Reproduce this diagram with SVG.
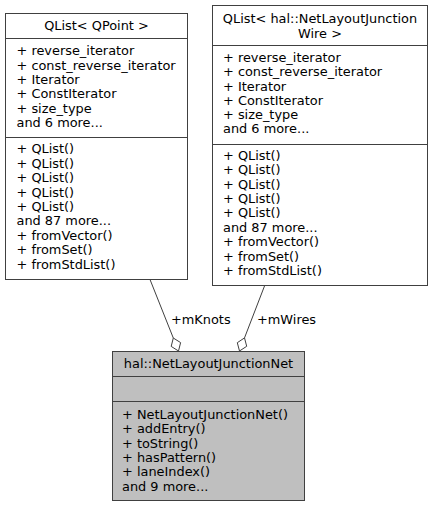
<svg xmlns="http://www.w3.org/2000/svg" width="435" height="507" viewBox="0 0 435 507">
<style>
text{font-family:"DejaVu Sans","Liberation Sans",sans-serif;font-size:12.9px;fill:#000}
.c{text-anchor:middle}
.box{fill:#fff;stroke:#404040;stroke-width:1}
.main{fill:#bfbfbf;stroke:#404040;stroke-width:1}
.sep{stroke:#404040;stroke-width:1;fill:none}
.edge{stroke:#404040;stroke-width:1;fill:none}
.dia{fill:#fff;stroke:#404040;stroke-width:1}
</style>
<rect width="435" height="507" fill="#fff"/>
<g id="connectors">
<path class="edge" d="M150,279.5 L173.3,338"/>
<polygon class="dia" points="178.5,351 180.6,342.6 173.3,338 171.2,346.4"/>
<text x="171" y="323.5">+mKnots</text>
<path class="edge" d="M264.5,286 L244.5,337.9"/>
<polygon class="dia" points="239.5,351 246.7,346.3 244.5,337.9 237.3,342.7"/>
<text x="257" y="323.5">+mWires</text>
</g>
<g id="node_qlist_qpoint">
<rect class="box" x="5.5" y="13.5" width="182" height="266"/>
<text class="c" x="96.5" y="30.3">QList&lt; QPoint &gt;</text>
<path class="sep" d="M5.5,38.5 H187.5"/>
<text x="16.5" y="55.3">+ reverse_iterator</text>
<text x="16.5" y="69.6">+ const_reverse_iterator</text>
<text x="16.5" y="83.9">+ Iterator</text>
<text x="16.5" y="98.2">+ ConstIterator</text>
<text x="16.5" y="112.5">+ size_type</text>
<text x="16.5" y="126.8">and 6 more...</text>
<path class="sep" d="M5.5,137.5 H187.5"/>
<text x="16.5" y="153.4">+ QList()</text>
<text x="16.5" y="167.8">+ QList()</text>
<text x="16.5" y="182.2">+ QList()</text>
<text x="16.5" y="196.6">+ QList()</text>
<text x="16.5" y="211">+ QList()</text>
<text x="16.5" y="225.4">and 87 more...</text>
<text x="16.5" y="239.8">+ fromVector()</text>
<text x="16.5" y="254.2">+ fromSet()</text>
<text x="16.5" y="268.6">+ fromStdList()</text>
</g>
<g id="node_qlist_wire">
<rect class="box" x="212.5" y="5.5" width="215" height="280"/>
<text class="c" x="320" y="22.9">QList&lt; hal::NetLayoutJunction</text>
<text class="c" x="320" y="37.5">Wire &gt;</text>
<path class="sep" d="M212.5,45.5 H427.5"/>
<text x="223" y="61.9">+ reverse_iterator</text>
<text x="223" y="76.2">+ const_reverse_iterator</text>
<text x="223" y="90.5">+ Iterator</text>
<text x="223" y="104.8">+ ConstIterator</text>
<text x="223" y="119.1">+ size_type</text>
<text x="223" y="133.4">and 6 more...</text>
<path class="sep" d="M212.5,144.5 H427.5"/>
<text x="223" y="159.7">+ QList()</text>
<text x="223" y="174.1">+ QList()</text>
<text x="223" y="188.5">+ QList()</text>
<text x="223" y="202.9">+ QList()</text>
<text x="223" y="217.3">+ QList()</text>
<text x="223" y="231.7">and 87 more...</text>
<text x="223" y="246.1">+ fromVector()</text>
<text x="223" y="260.5">+ fromSet()</text>
<text x="223" y="274.9">+ fromStdList()</text>
</g>
<g id="node_junction_net">
<rect class="main" x="112.5" y="351.5" width="192" height="149"/>
<text class="c" x="208.5" y="367.5">hal::NetLayoutJunctionNet</text>
<path class="sep" d="M112.5,376.5 H304.5"/>
<path class="sep" d="M112.5,401.5 H304.5"/>
<text x="122" y="418.7">+ NetLayoutJunctionNet()</text>
<text x="122" y="433.1">+ addEntry()</text>
<text x="122" y="447.5">+ toString()</text>
<text x="122" y="461.9">+ hasPattern()</text>
<text x="122" y="476.3">+ laneIndex()</text>
<text x="122" y="490.7">and 9 more...</text>
</g>
</svg>
